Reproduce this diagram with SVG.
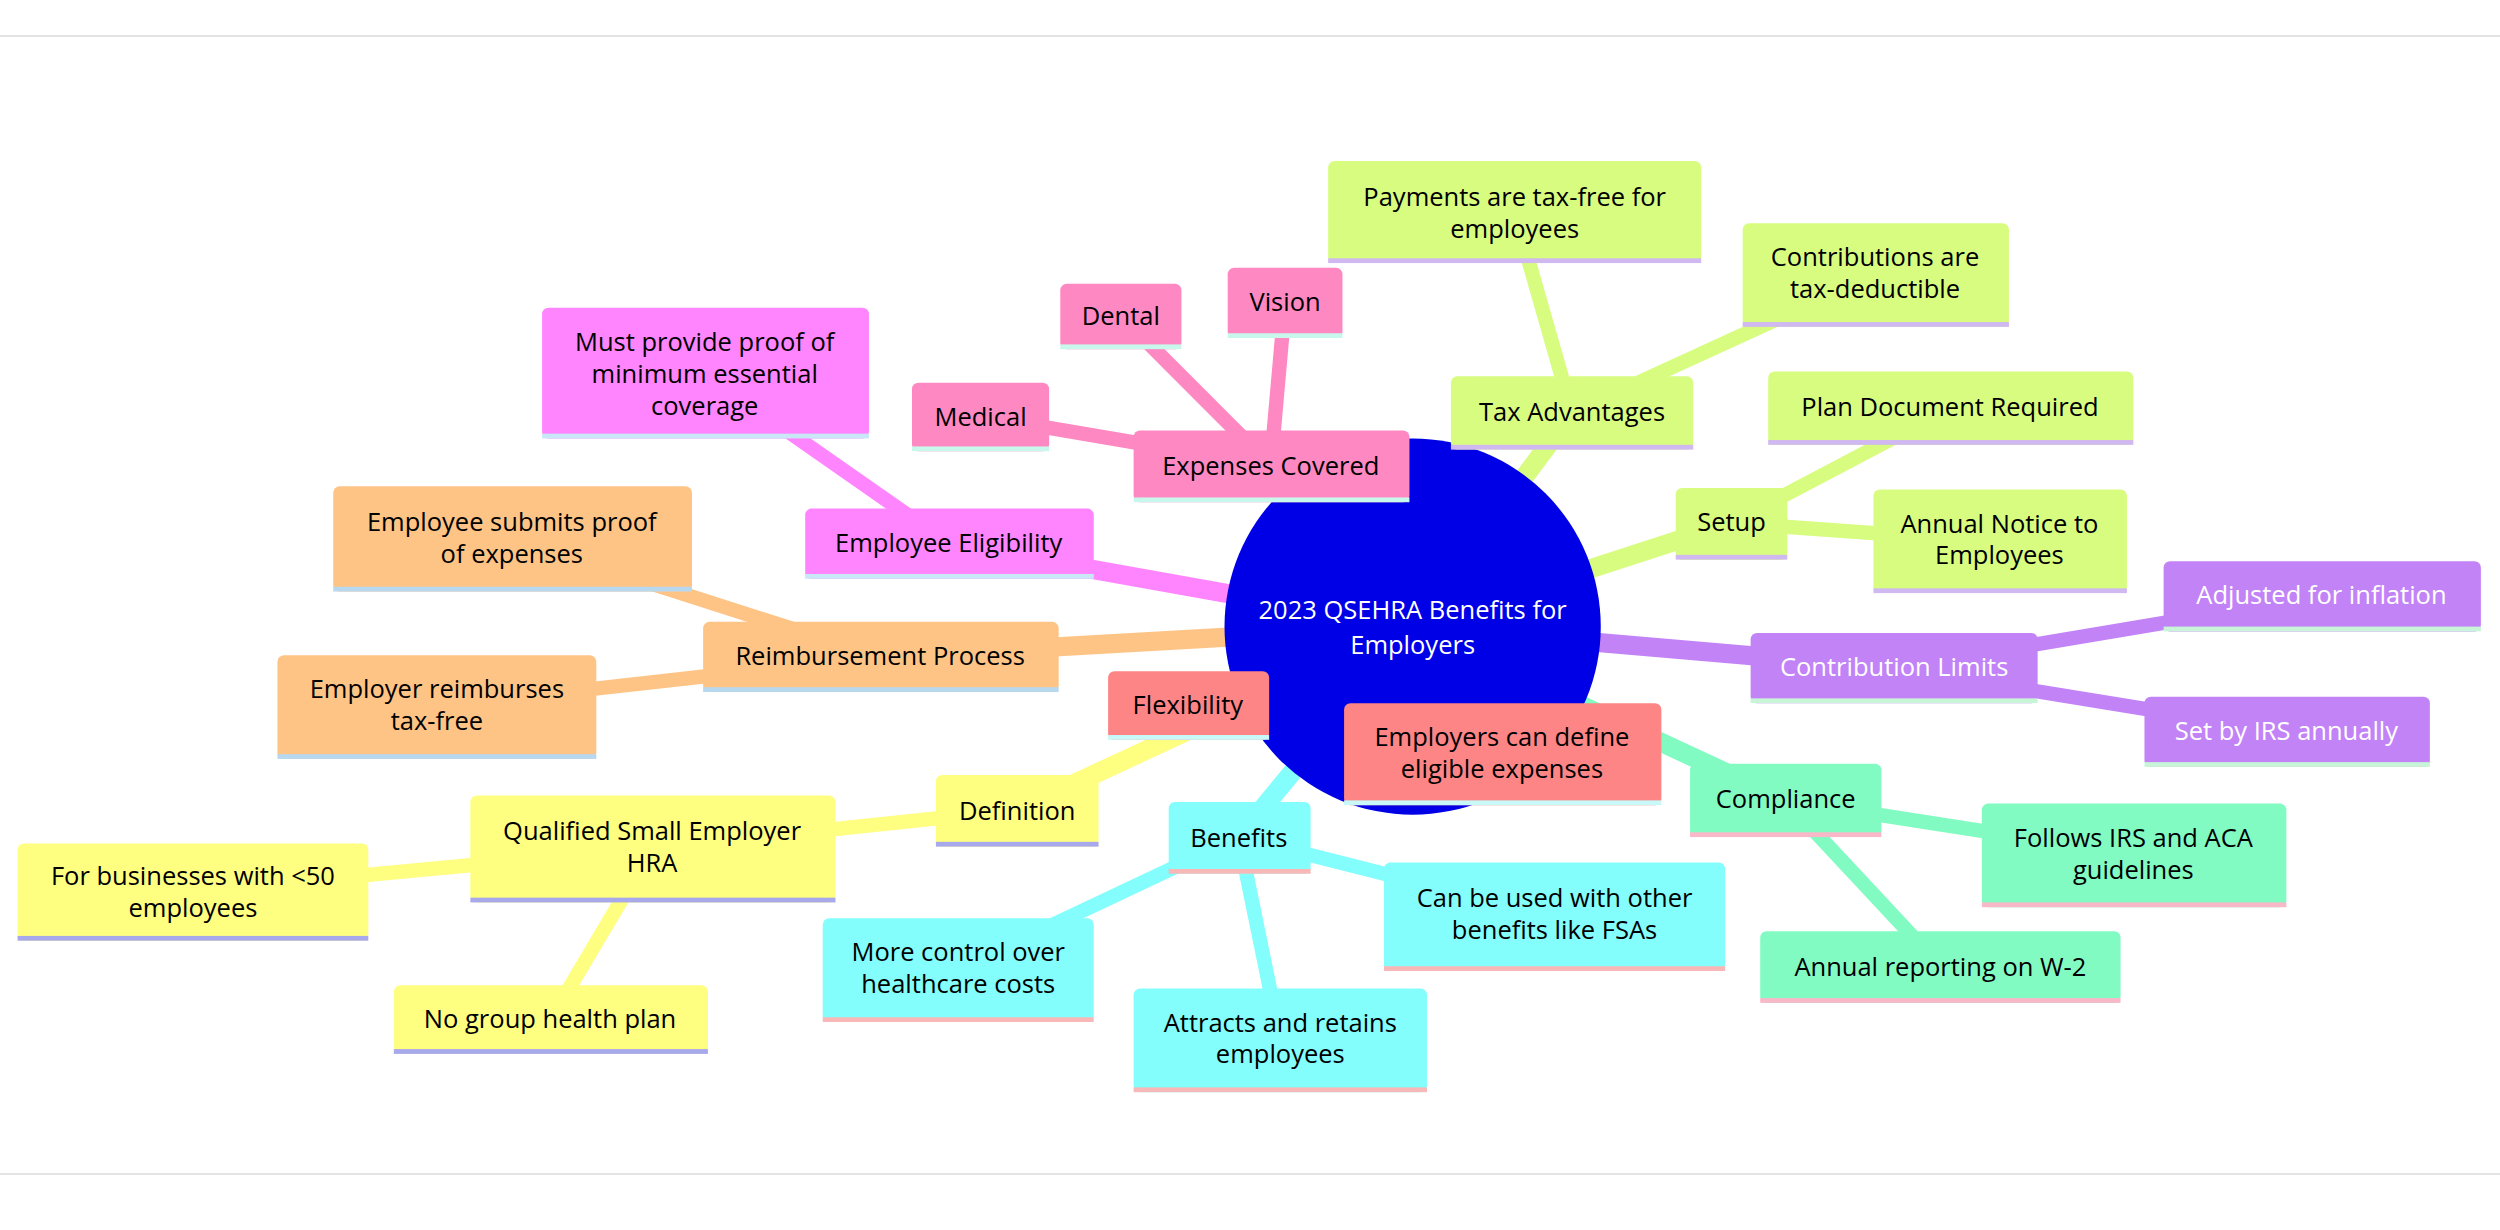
<svg xmlns="http://www.w3.org/2000/svg" width="2500" height="1230" viewBox="0 0 2500 1230">
<style>
text{font-family:"Open Sans","Liberation Sans",sans-serif;font-size:16px;fill:#000;text-anchor:middle}
.w{fill:#fff}
.e{fill:none;stroke-linecap:round}
.g{fill:#d8fc80}.gs{fill:#d0b8f0}
.p{fill:#c283f7}.ps{fill:#c8f5d8}
.m{fill:#82fbc2}.ms{fill:#f8b8c8}
.r{fill:#fd8585}.rs{fill:#c8f8f8}
.c{fill:#84fdfd}.cs{fill:#f8b8b8}
.y{fill:#fefe80}.ys{fill:#a8a8ec}
.o{fill:#fec486}.os{fill:#b8d8f0}
.k{fill:#ff85ff}.ks{fill:#c8e8f8}
.n{fill:#fe88c2}.ns{fill:#c8f8ec}
</style>
<rect width="2500" height="1230" fill="#fff"/>
<line x1="0" y1="36" x2="2500" y2="36" stroke="#e4e4e4" stroke-width="2"/>
<line x1="0" y1="1174" x2="2500" y2="1174" stroke="#e4e4e4" stroke-width="2"/>
<g transform="scale(1.5944)">
<g id="connectors">
<g class="e" stroke="#d8fc80" stroke-width="9">
<path d="M886 393L986 259" stroke-width="12"/><path d="M986 259L950 133"/><path d="M986 259L1176 172"/>
<path d="M886 393L1086 328" stroke-width="12"/><path d="M1086 328L1223 256"/><path d="M1086 328L1254 340"/></g>
<g class="e" stroke="#c283f7" stroke-width="9"><path d="M886 393L1188 419" stroke-width="12"/><path d="M1188 419L1456 374"/><path d="M1188 419L1434 459"/></g>
<g class="e" stroke="#82fbc2" stroke-width="9"><path d="M886 393L1120 502" stroke-width="12"/><path d="M1120 502L1338 536"/><path d="M1120 502L1217 606"/></g>
<g class="e" stroke="#fefe80" stroke-width="9"><path d="M886 393L638 508" stroke-width="12"/><path d="M638 508L409 532"/><path d="M409 532L121 559"/><path d="M409 532L345 640"/></g>
<g class="e" stroke="#fd8585" stroke-width="9"><path d="M886 393L745 442" stroke-width="12"/><path d="M745 442L942 473"/></g>
<g class="e" stroke="#84fdfd" stroke-width="9"><path d="M886 393L777 525" stroke-width="12"/><path d="M777 525L975 575"/><path d="M777 525L601 608"/><path d="M777 525L803 652"/></g>
<g class="e" stroke="#fec486" stroke-width="9"><path d="M886 393L552 412" stroke-width="12"/><path d="M552 412L321 338"/><path d="M552 412L274 443"/></g>
<g class="e" stroke="#ff85ff" stroke-width="9"><path d="M886 393L595 341" stroke-width="12"/><path d="M595 341L442 234"/></g>
<g class="e" stroke="#fe88c2" stroke-width="9"><path d="M886 393L797 292" stroke-width="12"/><path d="M797 292L615 261"/><path d="M797 292L703 198"/><path d="M797 292L806 190"/></g>
</g>
<g id="root"><circle cx="886" cy="393" r="118" fill="#0000e6"/><text class="w" x="886" y="388">2023 QSEHRA Benefits for</text><text class="w" x="886" y="410">Employers</text></g>

<g id="tax"><rect class="g" x="910" y="236" width="152" height="46" rx="4"/><rect class="gs" x="910" y="279" width="152" height="3"/><text x="986" y="264">Tax Advantages</text></g>
<g id="pay"><rect class="g" x="833" y="101" width="234" height="64" rx="4"/><rect class="gs" x="833" y="162" width="234" height="3"/><text x="950" y="129">Payments are tax-free for</text><text x="950" y="149">employees</text></g>
<g id="contrib"><rect class="g" x="1093" y="140" width="167" height="65" rx="4"/><rect class="gs" x="1093" y="202" width="167" height="3"/><text x="1176" y="167">Contributions are</text><text x="1176" y="187">tax-deductible</text></g>
<g id="setup"><rect class="g" x="1051" y="306" width="70" height="45" rx="4"/><rect class="gs" x="1051" y="348" width="70" height="3"/><text x="1086" y="333">Setup</text></g>
<g id="plan"><rect class="g" x="1109" y="233" width="229" height="46" rx="4"/><rect class="gs" x="1109" y="276" width="229" height="3"/><text x="1223" y="261">Plan Document Required</text></g>
<g id="notice"><rect class="g" x="1175" y="307" width="159" height="65" rx="4"/><rect class="gs" x="1175" y="369" width="159" height="3"/><text x="1254" y="334">Annual Notice to</text><text x="1254" y="354">Employees</text></g>

<g id="limits"><rect class="p" x="1098" y="397" width="180" height="44" rx="4"/><rect class="ps" x="1098" y="438" width="180" height="3"/><text class="w" x="1188" y="424">Contribution Limits</text></g>
<g id="infl"><rect class="p" x="1357" y="352" width="199" height="44" rx="4"/><rect class="ps" x="1357" y="393" width="199" height="3"/><text class="w" x="1456" y="379">Adjusted for inflation</text></g>
<g id="irs"><rect class="p" x="1345" y="437" width="179" height="44" rx="4"/><rect class="ps" x="1345" y="478" width="179" height="3"/><text class="w" x="1434" y="464">Set by IRS annually</text></g>

<g id="compliance"><rect class="m" x="1060" y="479" width="120" height="46" rx="4"/><rect class="ms" x="1060" y="522" width="120" height="3"/><text x="1120" y="507">Compliance</text></g>
<g id="follows"><rect class="m" x="1243" y="504" width="191" height="65" rx="4"/><rect class="ms" x="1243" y="566" width="191" height="3"/><text x="1338" y="531">Follows IRS and ACA</text><text x="1338" y="551">guidelines</text></g>
<g id="w2"><rect class="m" x="1104" y="584" width="226" height="45" rx="4"/><rect class="ms" x="1104" y="626" width="226" height="3"/><text x="1217" y="612">Annual reporting on W-2</text></g>

<g id="flex"><rect class="r" x="695" y="421" width="101" height="43" rx="4"/><rect class="rs" x="695" y="461" width="101" height="3"/><text x="745" y="448">Flexibility</text></g>
<g id="define"><rect class="r" x="843" y="441" width="199" height="64" rx="4"/><rect class="rs" x="843" y="502" width="199" height="3"/><text x="942" y="468">Employers can define</text><text x="942" y="488">eligible expenses</text></g>

<g id="benefits"><rect class="c" x="733" y="503" width="89" height="45" rx="4"/><rect class="cs" x="733" y="545" width="89" height="3"/><text x="777" y="531">Benefits</text></g>
<g id="fsa"><rect class="c" x="868" y="541" width="214" height="68" rx="4"/><rect class="cs" x="868" y="606" width="214" height="3"/><text x="975" y="569">Can be used with other</text><text x="975" y="589">benefits like FSAs</text></g>
<g id="control"><rect class="c" x="516" y="576" width="170" height="65" rx="4"/><rect class="cs" x="516" y="638" width="170" height="3"/><text x="601" y="603">More control over</text><text x="601" y="623">healthcare costs</text></g>
<g id="attracts"><rect class="c" x="711" y="620" width="184" height="65" rx="4"/><rect class="cs" x="711" y="682" width="184" height="3"/><text x="803" y="647">Attracts and retains</text><text x="803" y="667">employees</text></g>

<g id="definition"><rect class="y" x="587" y="486" width="102" height="45" rx="4"/><rect class="ys" x="587" y="528" width="102" height="3"/><text x="638" y="514">Definition</text></g>
<g id="qsehra"><rect class="y" x="295" y="499" width="229" height="67" rx="4"/><rect class="ys" x="295" y="563" width="229" height="3"/><text x="409" y="527">Qualified Small Employer</text><text x="409" y="547">HRA</text></g>
<g id="under50"><rect class="y" x="11" y="529" width="220" height="61" rx="4"/><rect class="ys" x="11" y="587" width="220" height="3"/><text x="121" y="555">For businesses with &lt;50</text><text x="121" y="575">employees</text></g>
<g id="nogroup"><rect class="y" x="247" y="618" width="197" height="43" rx="4"/><rect class="ys" x="247" y="658" width="197" height="3"/><text x="345" y="645">No group health plan</text></g>

<g id="reimb"><rect class="o" x="441" y="390" width="223" height="44" rx="4"/><rect class="os" x="441" y="431" width="223" height="3"/><text x="552" y="417">Reimbursement Process</text></g>
<g id="submits"><rect class="o" x="209" y="305" width="225" height="66" rx="4"/><rect class="os" x="209" y="368" width="225" height="3"/><text x="321" y="333">Employee submits proof</text><text x="321" y="353">of expenses</text></g>
<g id="taxfree"><rect class="o" x="174" y="411" width="200" height="65" rx="4"/><rect class="os" x="174" y="473" width="200" height="3"/><text x="274" y="438">Employer reimburses</text><text x="274" y="458">tax-free</text></g>

<g id="elig"><rect class="k" x="505" y="319" width="181" height="44" rx="4"/><rect class="ks" x="505" y="360" width="181" height="3"/><text x="595" y="346">Employee Eligibility</text></g>
<g id="proof"><rect class="k" x="340" y="193" width="205" height="82" rx="4"/><rect class="ks" x="340" y="272" width="205" height="3"/><text x="442" y="220">Must provide proof of</text><text x="442" y="240">minimum essential</text><text x="442" y="260">coverage</text></g>

<g id="expenses"><rect class="n" x="711" y="270" width="173" height="45" rx="4"/><rect class="ns" x="711" y="312" width="173" height="3"/><text x="797" y="298">Expenses Covered</text></g>
<g id="medical"><rect class="n" x="572" y="240" width="86" height="43" rx="4"/><rect class="ns" x="572" y="280" width="86" height="3"/><text x="615" y="267">Medical</text></g>
<g id="dental"><rect class="n" x="665" y="178" width="76" height="41" rx="4"/><rect class="ns" x="665" y="216" width="76" height="3"/><text x="703" y="204">Dental</text></g>
<g id="vision"><rect class="n" x="770" y="168" width="72" height="44" rx="4"/><rect class="ns" x="770" y="209" width="72" height="3"/><text x="806" y="195">Vision</text></g>
</g>
</svg>
